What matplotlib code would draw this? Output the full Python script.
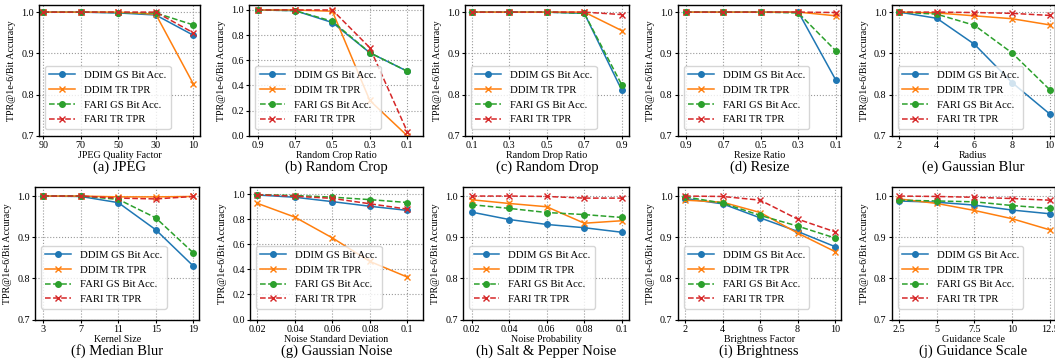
import numpy as np
import matplotlib
matplotlib.use('Agg')
from matplotlib import pyplot as plt

plt.rcParams['font.family'] = ['Liberation Serif', 'DejaVu Serif']

# ---- data ----
titles = ['(a) JPEG', '(b) Random Crop', '(c) Random Drop', '(d) Resize', '(e) Gaussian Blur',
          '(f) Median Blur', '(g) Gaussian Noise', '(h) Salt & Pepper Noise', '(i) Brightness',
          '(j) Guidance Scale']
xlabels = ['JPEG Quality Factor', 'Random Crop Ratio', 'Random Drop Ratio', 'Resize Ratio', 'Radius',
           'Kernel Size', 'Noise Standard Deviation', 'Noise Probability', 'Brightness Factor',
           'Guidance Scale']
xticklabels = [
    ['90', '70', '50', '30', '10'],
    ['0.9', '0.7', '0.5', '0.3', '0.1'],
    ['0.1', '0.3', '0.5', '0.7', '0.9'],
    ['0.9', '0.7', '0.5', '0.3', '0.1'],
    ['2', '4', '6', '8', '10'],
    ['3', '7', '11', '15', '19'],
    ['0.02', '0.04', '0.06', '0.08', '0.1'],
    ['0.02', '0.04', '0.06', '0.08', '0.1'],
    ['2', '4', '6', '8', '10'],
    ['2.5', '5', '7.5', '10', '12.5'],
]

ddim_gs = [
    [1.0, 1.0, 0.998, 0.993, 0.944],
    [1.0, 0.995, 0.90, 0.66, 0.513],
    [1.0, 1.0, 1.0, 0.997, 0.810],
    [1.0, 1.0, 1.0, 1.0, 0.835],
    [1.0, 0.985, 0.922, 0.829, 0.753],
    [1.0, 0.999, 0.984, 0.918, 0.830],
    [0.995, 0.977, 0.942, 0.905, 0.872],
    [0.961, 0.943, 0.931, 0.923, 0.912],
    [0.994, 0.981, 0.947, 0.914, 0.877],
    [0.988, 0.985, 0.978, 0.966, 0.957],
]
ddim_tr = [
    [1.0, 1.0, 1.0, 0.995, 0.826],
    [1.0, 1.0, 0.99, 0.28, 0.0],
    [1.0, 1.0, 1.0, 1.0, 0.955],
    [1.0, 1.0, 1.0, 1.0, 0.991],
    [1.0, 0.998, 0.991, 0.984, 0.969],
    [1.0, 1.0, 0.998, 0.998, 0.999],
    [0.928, 0.818, 0.652, 0.464, 0.339],
    [0.991, 0.982, 0.974, 0.934, 0.940],
    [0.990, 0.985, 0.960, 0.910, 0.865],
    [0.993, 0.982, 0.965, 0.945, 0.918],
]
fari_gs = [
    [1.0, 1.0, 0.999, 0.998, 0.969],
    [1.0, 0.995, 0.91, 0.66, 0.513],
    [1.0, 1.0, 1.0, 0.997, 0.823],
    [1.0, 1.0, 1.0, 0.998, 0.906],
    [1.0, 0.995, 0.968, 0.901, 0.812],
    [1.0, 1.0, 0.992, 0.947, 0.862],
    [0.998, 0.991, 0.978, 0.958, 0.935],
    [0.979, 0.970, 0.960, 0.955, 0.948],
    [0.998, 0.983, 0.953, 0.927, 0.898],
    [0.990, 0.988, 0.986, 0.977, 0.970],
]
fari_tr = [
    [1.0, 1.0, 1.0, 1.0, 0.950],
    [1.0, 1.0, 1.0, 0.70, 0.033],
    [1.0, 1.0, 1.0, 1.0, 0.994],
    [1.0, 1.0, 1.0, 1.0, 0.999],
    [1.0, 1.0, 0.999, 0.997, 0.992],
    [1.0, 1.0, 0.995, 0.993, 0.999],
    [0.997, 0.985, 0.968, 0.925, 0.882],
    [1.0, 1.0, 0.999, 0.995, 0.995],
    [1.0, 0.999, 0.990, 0.944, 0.913],
    [1.0, 0.999, 0.997, 0.994, 0.990],
]
names = ['DDIM GS Bit Acc.', 'DDIM TR TPR', 'FARI GS Bit Acc.', 'FARI TR TPR']

# ---- layout in pixels (left, right, top, bottom) ----
W, H = 1055, 362
boxes = [
    (39, 200, 4.7, 135.7), (249.3, 423.3, 4.7, 135.7), (465, 629, 4.7, 135.7),
    (677.7, 840.7, 4.7, 135.7), (891.7, 1054.5, 4.7, 135.7),
    (35, 199.3, 187, 319.5), (250, 422.7, 187, 319.5), (463.3, 629, 187, 319.5),
    (677.7, 840.7, 187, 319.5), (891.7, 1054.5, 187, 319.5),
]
xlims = [(-0.115, 4.18), (-0.22, 4.43), (-0.18, 4.19), (-0.22, 4.13), (-0.2, 4.13),
         (-0.22, 4.16), (-0.2, 4.41), (-0.22, 4.19), (-0.2, 4.15), (-0.2, 4.13)]

fig = plt.figure(figsize=(W / 100, H / 100), dpi=100)
x = np.arange(5)
styles = [dict(color='#1f77b4', marker='o', ls='-'),
          dict(color='#ff7f0e', marker='x', ls='-'),
          dict(color='#2ca02c', marker='o', ls='--'),
          dict(color='#d62728', marker='x', ls='--')]

for i in range(10):
    l, r, t, b = boxes[i]
    wpx, hpx = r - l, b - t
    ax = fig.add_axes([l / W, 1 - b / H, wpx / W, hpx / H])
    series = [ddim_gs[i], ddim_tr[i], fari_gs[i], fari_tr[i]]
    for s, name, st in zip(series, names, styles):
        ax.plot(x, s, label=name, lw=1.1, ms=4, mew=1.0, **st)
    ax.set_xlim(*xlims[i])
    if i in (1, 6):
        ax.set_ylim(0, 1.042 if i == 1 else 1.059)
        ax.set_yticks([0, 0.2, 0.4, 0.6, 0.8, 1.0])
    else:
        ax.set_ylim(0.7, 1.018 if i < 5 else 1.022)
        ax.set_yticks([0.7, 0.8, 0.9, 1.0])
    ax.set_xticks(x)
    ax.set_xticklabels(xticklabels[i])
    ax.tick_params(labelsize=7.3, length=2.2, pad=1.5)
    ax.grid(True, ls=':', color='#999999', lw=0.8)
    for sp in ax.spines.values():
        sp.set_linewidth(1.0)
    ax.set_ylabel('TPR@1e-6/Bit Accuracy', fontsize=7.2)
    ax.yaxis.set_label_coords(-23 / wpx, 0.5)
    ax.set_xlabel(xlabels[i], fontsize=7.2)
    ax.xaxis.set_label_coords(0.5, -15.5 / hpx)
    gap = 7 if i < 5 else 11
    ax.legend(loc='lower left', bbox_to_anchor=(6 / wpx, gap / hpx), borderaxespad=0,
              fontsize=7.7, labelspacing=0.5, handlelength=2.4, handletextpad=0.85,
              borderpad=0.4, framealpha=0.8, edgecolor='#cccccc')
    ax.text(0.5, -31.5 / hpx, titles[i], transform=ax.transAxes, ha='center', va='center',
            fontsize=10.5)

fig.savefig('out.png', dpi=100)
